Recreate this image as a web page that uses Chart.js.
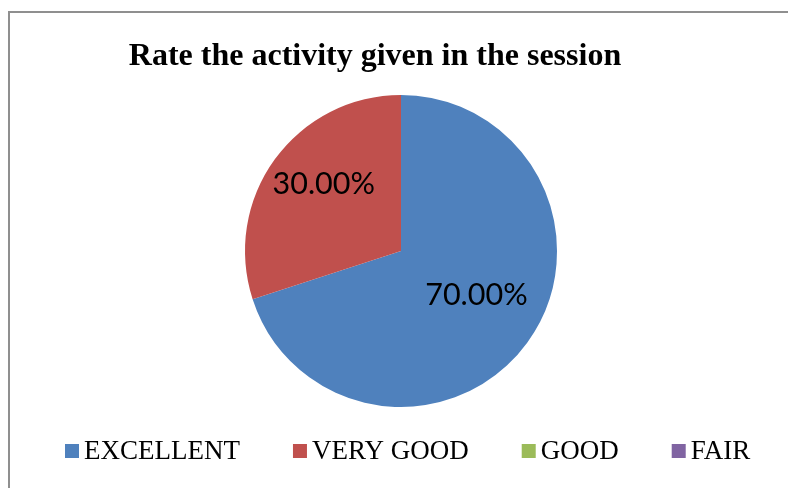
<!DOCTYPE html>
<html>
<head>
<meta charset="utf-8">
<script src="https://cdn.jsdelivr.net/npm/chart.js@4"></script>
<style>
  html, body { margin: 0; padding: 0; background: #fff; overflow: hidden; }
  #wrap { position: relative; width: 788px; height: 488px; }
  #frame { position: absolute; left: 8px; top: 11px; width: 800px; height: 500px;
           border: 2px solid #8f8f8f; box-sizing: border-box; }
  canvas { position: absolute; left: 0; top: 0; }
</style>
</head>
<body>
<div id="wrap">
  <div id="frame"></div>
  <canvas id="grafico" width="788" height="488"></canvas>
</div>
<script>
/* dados */
const titulo = 'Rate the activity given in the session';
const categorias = ['EXCELLENT', 'VERY GOOD', 'GOOD', 'FAIR'];
const valores = [70, 30, 0, 0];
const cores = ['#4F81BD', '#C0504D', '#9BBB59', '#8064A2'];

/* título, rótulos e legenda no estilo do Excel */
const extras = {
  id: 'extras',
  afterDraw(chart) {
    const ctx = chart.ctx;
    ctx.save();

    // título
    ctx.fillStyle = '#000';
    ctx.font = 'bold 32px "Liberation Serif", "Times New Roman", serif';
    ctx.textAlign = 'center';
    ctx.textBaseline = 'alphabetic';
    ctx.fillText(titulo, 375, 65);

    // rótulos de porcentagem
    const meta = chart.getDatasetMeta(0);
    const total = valores.reduce((a, b) => a + b, 0);
    const fator = [0.55, 0.66, 0.6, 0.6];
    ctx.font = '30.5px Lato, "Open Sans", sans-serif';
    ctx.textBaseline = 'middle';
    meta.data.forEach((arc, i) => {
      if (!valores[i]) return;
      const p = arc.getProps(['x', 'y', 'startAngle', 'endAngle', 'outerRadius'], true);
      const meio = (p.startAngle + p.endAngle) / 2;
      const r = p.outerRadius * fator[i];
      const txt = (valores[i] / total * 100).toFixed(2) + '%';
      ctx.fillText(txt, p.x + Math.cos(meio) * r + 6, p.y + Math.sin(meio) * r - 6);
    });

    // legenda
    ctx.font = '27px "Liberation Serif", "Times New Roman", serif';
    ctx.textAlign = 'left';
    ctx.textBaseline = 'middle';
    let x = 65;
    const y = 451;
    categorias.forEach((c, i) => {
      ctx.fillStyle = cores[i];
      ctx.fillRect(x, y - 7, 14, 14);
      ctx.fillStyle = '#000';
      ctx.fillText(c, x + 19, y + 1);
      x += 19 + ctx.measureText(c).width + 53;
    });

    ctx.restore();
  }
};

new Chart(document.getElementById('grafico'), {
  type: 'pie',
  data: {
    labels: categorias,
    datasets: [{
      data: valores,
      backgroundColor: cores,
      borderWidth: 0
    }]
  },
  options: {
    responsive: false,
    animation: false,
    layout: { padding: { left: 245, right: 231, top: 95, bottom: 81 } },
    plugins: {
      legend: { display: false },
      title: { display: false },
      tooltip: { enabled: false }
    }
  },
  plugins: [extras]
});
</script>
</body>
</html>
